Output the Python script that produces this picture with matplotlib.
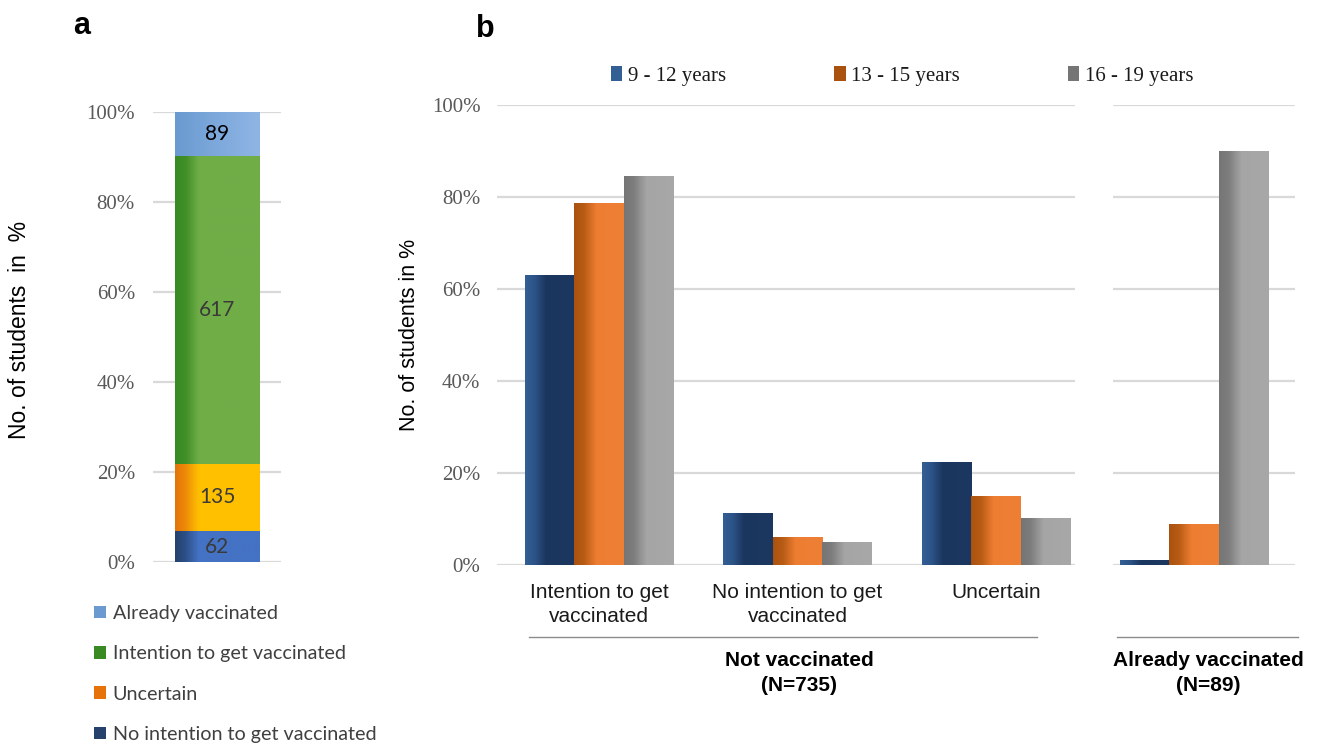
import numpy as np
import matplotlib
matplotlib.use("Agg")
import matplotlib.pyplot as plt
import matplotlib.colors as mcolors
from matplotlib.lines import Line2D

# ---------------- data ----------------
stack_labels = ["No intention to get vaccinated", "Uncertain",
                "Intention to get vaccinated", "Already vaccinated"]
stack_counts = [62, 135, 617, 89]

age_groups = ["9 - 12 years", "13 - 15 years", "16 - 19 years"]
notvacc_cats = ["Intention to get\nvaccinated", "No intention to get\nvaccinated", "Uncertain"]
notvacc_vals = {
    "9 - 12 years": [63.0, 11.2, 22.4],
    "13 - 15 years": [78.6, 6.0, 15.1],
    "16 - 19 years": [84.5, 5.1, 10.3],
}
already_vals = {
    "9 - 12 years": [1.0],
    "13 - 15 years": [8.9],
    "16 - 19 years": [89.9],
}
yticks = [0, 20, 40, 60, 80, 100]
ytick_labels = ["0%", "20%", "40%", "60%", "80%", "100%"]

# ---------------- style ----------------
W, H = 1318, 744
fig = plt.figure(figsize=(W / 100, H / 100), dpi=100)

def fx(x):
    return x / W

def fy(y):
    return 1 - y / H

SERIF = ["Liberation Serif", "DejaVu Serif"]
SANS = ["Liberation Sans", "DejaVu Sans"]
NARROW = ["Liberation Sans Narrow", "Liberation Sans", "DejaVu Sans"]
CAL = ["Lato", "Open Sans", "DejaVu Sans"]
GRID = "#D9D9D9"
TICKC = "#595959"

stack_stops = {
    "No intention to get vaccinated": [(0, "#26426C"), (0.12, "#2C4F86"), (0.28, "#4472C4"), (1, "#4472C4")],
    "Uncertain": [(0, "#E5730A"), (0.12, "#EC8A08"), (0.28, "#FFC000"), (1, "#FFC000")],
    "Intention to get vaccinated": [(0, "#3A8A23"), (0.12, "#3F8E27"), (0.28, "#70AD47"), (1, "#70AD47")],
    "Already vaccinated": [(0, "#6A9AD0"), (0.5, "#7EA9DC"), (1, "#8FB5E4")],
}
age_stops = {
    "9 - 12 years": [(0, "#335F95"), (0.2, "#2C5387"), (0.42, "#1B365E"), (1, "#1C3860")],
    "13 - 15 years": [(0, "#A9520F"), (0.2, "#B85C15"), (0.45, "#ED7D31"), (1, "#EE8036")],
    "16 - 19 years": [(0, "#757575"), (0.2, "#7E7E7E"), (0.45, "#A5A5A5"), (1, "#A8A8A8")],
}


def grad_fill(ax, patch, stops):
    x0, y0 = patch.get_x(), patch.get_y()
    w, h = patch.get_width(), patch.get_height()
    if h <= 0:
        return
    t = np.linspace(0, 1, 200)
    pos = [s[0] for s in stops]
    rgb = [mcolors.to_rgb(s[1]) for s in stops]
    cols = np.stack([np.interp(t, pos, [c[i] for c in rgb]) for i in range(3)], axis=1)
    img = cols[np.newaxis, :, :]
    im = ax.imshow(img, extent=[x0, x0 + w, y0, y0 + h], aspect="auto",
                   origin="lower", zorder=patch.get_zorder() + 0.1,
                   interpolation="bilinear")
    im.set_clip_path(patch)


def style_axis(ax, show_labels=True, pad=10):
    ax.set_ylim(0, 100)
    ax.set_yticks(yticks)
    if show_labels:
        ax.set_yticklabels(ytick_labels, fontfamily=SERIF, fontsize=15, color=TICKC)
    else:
        ax.set_yticklabels([])
    ax.tick_params(axis="y", length=0, pad=pad)
    ax.grid(axis="y", color=GRID, linewidth=1.6, zorder=0)
    ax.set_axisbelow(True)
    for s in ax.spines.values():
        s.set_visible(False)


# ---------------- panel a ----------------
axa = fig.add_axes([fx(153), fy(562), fx(281) - fx(153), fy(112) - fy(562)])
total = sum(stack_counts)
bottom = 0.0
handles_a = {}
for lab, cnt in zip(stack_labels, stack_counts):
    pct = cnt / total * 100
    stops = stack_stops[lab]
    bars = axa.bar(0, pct, bottom=bottom, width=0.664, color=stops[0][1],
                   linewidth=0, zorder=2, label=lab)
    grad_fill(axa, bars.patches[0], stops)
    handles_a[lab] = bars
    axa.text(0, bottom + pct / 2, str(cnt), ha="center", va="center",
             fontfamily=CAL, fontsize=15,
             color="#000000" if lab == "Already vaccinated" else "#3A3A3A", zorder=5)
    bottom += pct
axa.set_xlim(-0.5, 0.5)
axa.set_xticks([])
style_axis(axa, pad=13)
axa.set_ylabel("No. of students  in  %", fontfamily=SANS, fontsize=16.5, color="#000000")
axa.yaxis.set_label_coords((31 - 153) / (281 - 153), 0.515)

leg_order = ["Already vaccinated", "Intention to get vaccinated", "Uncertain",
             "No intention to get vaccinated"]
fig.legend([handles_a[k] for k in leg_order], leg_order,
           loc="upper left", bbox_to_anchor=(fx(94), fy(605)), frameon=False,
           prop={"family": CAL, "size": 14.2}, labelcolor="#404040",
           handlelength=0.6, handleheight=0.6, handletextpad=0.35,
           labelspacing=1.18, borderaxespad=0, borderpad=0)

fig.text(fx(82), fy(26), "a", fontfamily=SANS, fontsize=22, fontweight="bold",
         ha="center", va="center")

# ---------------- panel b (left) ----------------
axb = fig.add_axes([fx(497), fy(565), fx(1075) - fx(497), fy(105) - fy(565)])
x = np.arange(len(notvacc_cats))
bw = 0.25
offsets = [-bw, 0, bw]
leg_handles_b = []
for g, off in zip(age_groups, offsets):
    bars = axb.bar(x + off, notvacc_vals[g], width=bw, color=age_stops[g][0][1],
                   linewidth=0, zorder=2, label=g)
    for p in bars.patches:
        grad_fill(axb, p, age_stops[g])
    leg_handles_b.append(bars)
axb.set_xlim(-0.514, 2.398)
style_axis(axb, pad=12)
axb.set_xticks(x)
axb.set_xticklabels(notvacc_cats, fontfamily=NARROW, fontsize=15, color="#1A1A1A",
                    linespacing=1.3)
axb.tick_params(axis="x", length=0, pad=13)
axb.set_ylabel("No. of students in %", fontfamily=SANS, fontsize=15.5, color="#000000")
axb.yaxis.set_label_coords((420 - 497) / (1075 - 497), 0.5)

# ---------------- panel b (right) ----------------
axc = fig.add_axes([fx(1113), fy(565), fx(1295) - fx(1113), fy(105) - fy(565)])
for g, off in zip(age_groups, offsets):
    bars = axc.bar(np.array([0]) + off, already_vals[g], width=bw,
                   color=age_stops[g][0][1], linewidth=0, zorder=2)
    for p in bars.patches:
        grad_fill(axc, p, age_stops[g])
axc.set_xlim(-0.408, 0.509)
style_axis(axc, show_labels=False)
axc.set_xticks([])

fig.legend(leg_handles_b, age_groups, loc="center left",
           bbox_to_anchor=(fx(611), fy(76)), ncol=3, frameon=False,
           prop={"family": SERIF, "size": 15}, labelcolor="#1A1A1A",
           handlelength=0.55, handleheight=0.75, handletextpad=0.25,
           columnspacing=5.2, borderaxespad=0, borderpad=0)

fig.text(fx(485), fy(29), "b", fontfamily=SANS, fontsize=22, fontweight="bold",
         ha="center", va="center")

# group underlines and labels
fig.add_artist(Line2D([fx(529), fx(1037)], [fy(637), fy(637)], color="#8C8C8C", lw=1.0))
fig.add_artist(Line2D([fx(1117), fx(1298)], [fy(637), fy(637)], color="#8C8C8C", lw=1.0))
fig.text(fx(799), fy(673), "Not vaccinated\n(N=735)", fontfamily=NARROW, fontsize=15,
         fontweight="bold", ha="center", va="center", linespacing=1.4)
fig.text(fx(1208), fy(673), "Already vaccinated\n(N=89)", fontfamily=NARROW, fontsize=15,
         fontweight="bold", ha="center", va="center", linespacing=1.4)

fig.savefig("out.png", dpi=100)
